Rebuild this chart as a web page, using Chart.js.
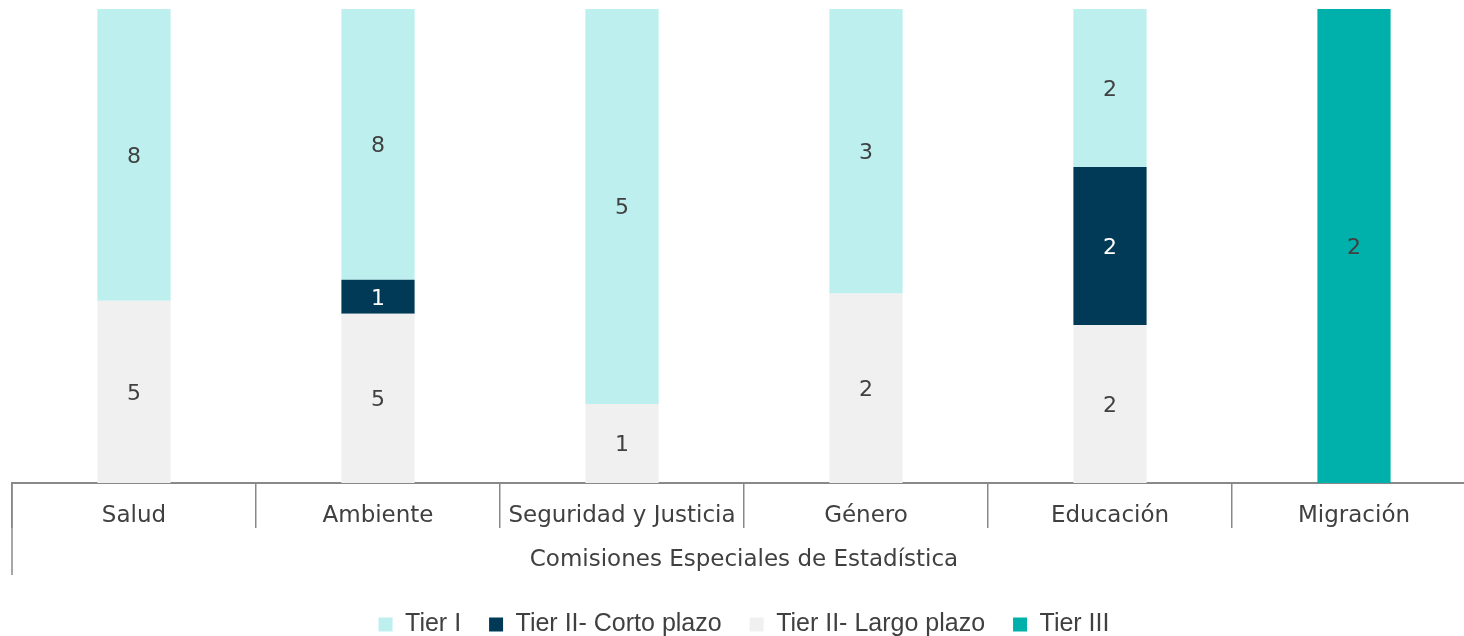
<!DOCTYPE html>
<html>
<head>
<meta charset="utf-8">
<script src="https://cdn.jsdelivr.net/npm/chart.js@4.4.1/dist/chart.umd.min.js"></script>
<style>
  html, body { margin: 0; padding: 0; background: #ffffff; overflow: hidden; }
  #wrap { width: 1464px; height: 636px; overflow: hidden; position: relative; }
  canvas { display: block; }
</style>
</head>
<body>
<div id="wrap"><canvas id="c" width="1476" height="647"></canvas></div>
<script>
const categories = ['Salud', 'Ambiente', 'Seguridad y Justicia', 'Género', 'Educación', 'Migración'];
const tierI      = [8, 8, 5, 3, 2, 0];
const cortoPlazo = [0, 1, 0, 0, 2, 0];
const largoPlazo = [5, 5, 1, 2, 2, 0];
const tierIII    = [0, 0, 0, 0, 0, 2];
const axisTitle = 'Comisiones Especiales de Estadística';

const totals = categories.map((_, i) => tierI[i] + cortoPlazo[i] + largoPlazo[i] + tierIII[i]);
const pct = arr => arr.map((v, i) => totals[i] ? v / totals[i] * 100 : 0);

const FONT = "'DejaVu Sans', sans-serif";
const TEXT = '#404040';
const GRID = '#898989';

// Stacking is bottom-first: Largo, Corto, Tier I, Tier III
const datasets = [
  { label: 'Tier II- Largo plazo', counts: largoPlazo, data: pct(largoPlazo), backgroundColor: '#F0F0F0', labelColor: TEXT, legendRank: 2 },
  { label: 'Tier II- Corto plazo', counts: cortoPlazo, data: pct(cortoPlazo), backgroundColor: '#003A57', labelColor: '#FFFFFF', legendRank: 1 },
  { label: 'Tier I', counts: tierI, data: pct(tierI), backgroundColor: '#BDEFEF', labelColor: TEXT, legendRank: 0 },
  { label: 'Tier III', counts: tierIII, data: pct(tierIII), backgroundColor: '#00B0AA', labelColor: TEXT, legendRank: 3 }
];

const valueLabels = {
  id: 'valueLabels',
  afterDatasetsDraw(chart) {
    const ctx = chart.ctx;
    ctx.save();
    ctx.font = "22px " + FONT;
    ctx.textAlign = 'center';
    ctx.textBaseline = 'middle';
    chart.data.datasets.forEach((ds, di) => {
      const meta = chart.getDatasetMeta(di);
      meta.data.forEach((bar, i) => {
        const v = ds.counts[i];
        if (!v) return;
        ctx.fillStyle = ds.labelColor;
        ctx.fillText(String(v), bar.x, (bar.y + bar.base) / 2 + 2);
      });
    });
    ctx.restore();
  }
};

const leftLine = {
  id: 'leftLine',
  afterDraw(chart) {
    const ctx = chart.ctx;
    const x = chart.scales.x.left;
    const y0 = chart.chartArea.bottom;
    ctx.save();
    ctx.strokeStyle = GRID;
    ctx.lineWidth = 1.5;
    ctx.beginPath();
    ctx.moveTo(x, y0);
    ctx.lineTo(x, y0 + 92);
    ctx.stroke();
    ctx.restore();
  }
};

new Chart(document.getElementById('c'), {
  type: 'bar',
  data: { labels: categories, datasets },
  options: {
    responsive: false,
    animation: false,
    events: [],
    layout: { padding: { left: 12, right: 0, top: 9, bottom: 0 } },
    datasets: { bar: { barPercentage: 0.3, categoryPercentage: 1.0 } },
    scales: {
      x: {
        stacked: true,
        offset: true,
        afterFit(scale) { scale.height = 101; },
        grid: { offset: true, drawOnChartArea: false, drawTicks: true, tickLength: 45, color: GRID, lineWidth: 1.5 },
        border: { display: true, color: GRID, width: 2 },
        ticks: { color: TEXT, font: { family: FONT, size: 23 }, padding: -26, maxRotation: 0, autoSkip: false },
        title: { display: true, text: axisTitle, color: TEXT, font: { family: FONT, size: 23 }, padding: { top: 10, bottom: 10 } }
      },
      y: { stacked: true, display: false, min: 0, max: 100 }
    },
    plugins: {
      tooltip: { enabled: false },
      legend: {
        position: 'bottom',
        labels: {
          color: TEXT,
          font: { family: "'Liberation Sans Narrow', 'Liberation Sans', sans-serif", size: 25 },
          boxWidth: 14, boxHeight: 14, padding: 28,
          sort: (a, b) => datasets[a.datasetIndex].legendRank - datasets[b.datasetIndex].legendRank
        }
      }
    }
  },
  plugins: [valueLabels, leftLine]
});
</script>
</body>
</html>
